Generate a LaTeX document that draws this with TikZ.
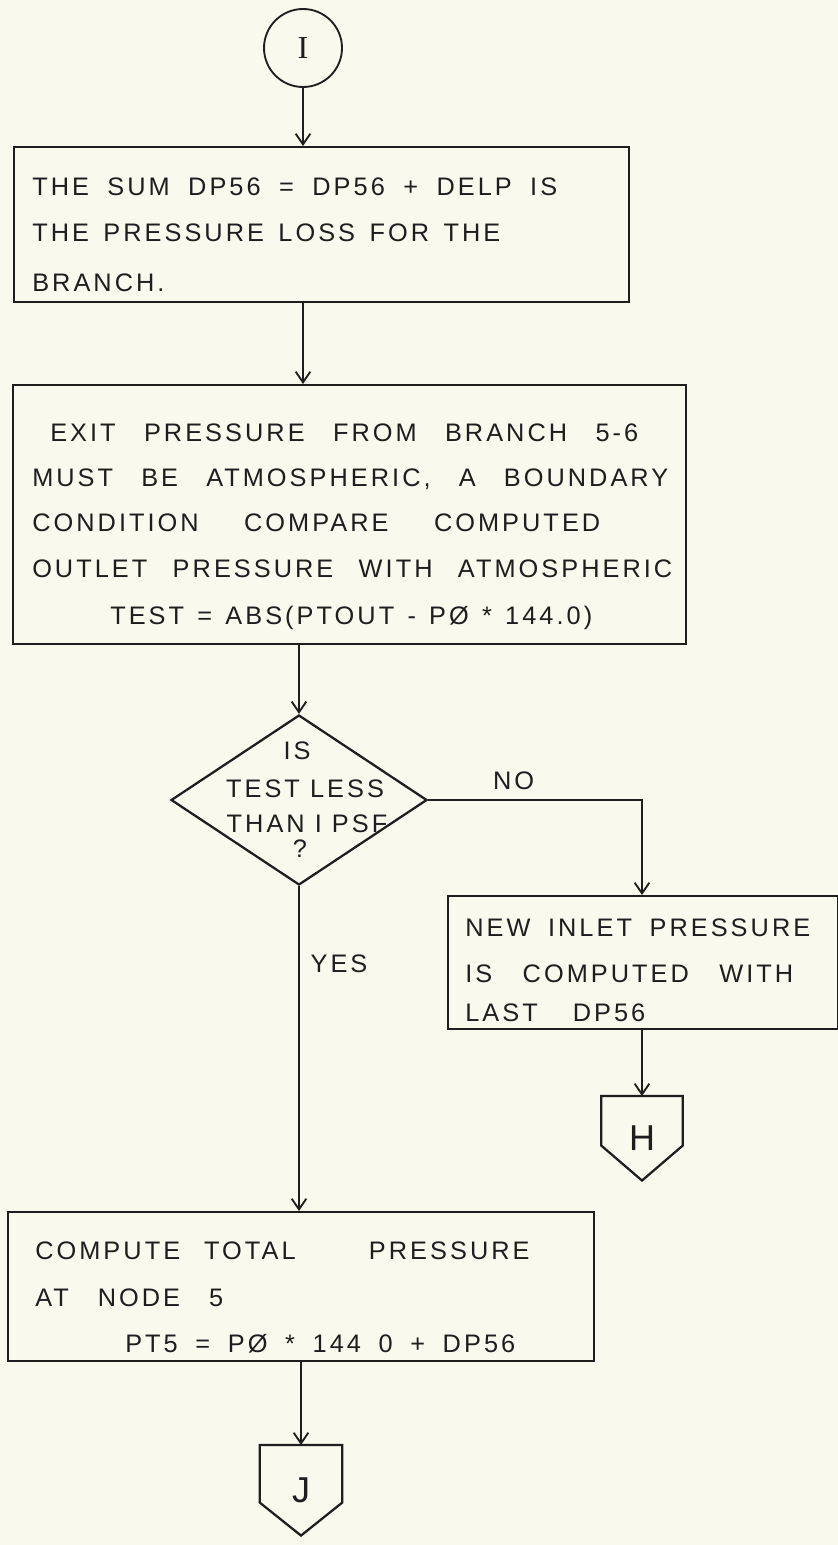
\documentclass[tikz,border=0pt]{standalone}
\usepackage{fontspec}
\setmainfont{Liberation Sans}[LetterSpace=12]
\newfontfamily\serifI{Liberation Serif}
\usetikzlibrary{shapes.geometric,arrows.meta,calc,positioning}
\definecolor{paper}{RGB}{249,249,238}
\definecolor{ink}{RGB}{30,30,30}
\newlength\px
\setlength\px{0.75pt}
\newcommand\handline[2]{\makebox[#1\px][s]{#2}}
\begin{document}
\begin{tikzpicture}[x=0.75pt,y=-0.75pt,
  box/.style 2 args={draw=ink,line width=1.7pt,rectangle,anchor=north west,inner sep=0pt,
    minimum width=#1*0.75pt,minimum height=#2*0.75pt},
  txt/.style={anchor=base west,inner sep=0pt,text=ink,font=\fontsize{19}{23}\selectfont},
  ctxt/.style={txt,anchor=base},
  flow/.style={draw=ink,line width=1.4pt,-{Straight Barb[length=8pt,width=11pt]}},
  offpage/.style 2 args={inner sep=0pt,anchor=north,text=ink,minimum width=#1*0.75pt,
    minimum height=#2*0.75pt,font=\fontsize{27}{30}\selectfont}]
\fill[paper] (0,0) rectangle (838,1545);
\useasboundingbox (0,0) rectangle (838,1545);
\node[draw=ink,line width=1.4pt,circle,minimum size=58.5pt,inner sep=0pt,text=ink,
  font=\serifI\fontsize{24}{26}\selectfont] (circI) at (303,48) {I};
\node[box={615}{155}] (sum) at (13,146) {};
\node[txt] (sum1) at (32,195) {\handline{525}{THE SUM DP56 = DP56 + DELP IS}};
\node[txt] (sum2) at (32,241) {\handline{468}{THE PRESSURE LOSS FOR THE}};
\node[txt] (sum3) at (32,291) {BRANCH.};
\node[box={673}{259}] (exit) at (12,384) {};
\node[txt] (exit1) at (50,441) {\handline{588}{EXIT PRESSURE FROM BRANCH 5-6}};
\node[txt] (exit2) at (32,486) {\handline{636}{MUST BE ATMOSPHERIC, A BOUNDARY}};
\node[txt] (exit3) at (32,531) {\handline{568}{CONDITION COMPARE COMPUTED}};
\node[txt] (exit4) at (32,577) {\handline{640}{OUTLET PRESSURE WITH ATMOSPHERIC}};
\node[txt] (exit5) at (110,624) {\handline{482}{TEST = ABS(PTOUT - PØ * 144.0)}};
\node[draw=ink,line width=1.7pt,diamond,minimum width=192pt,minimum height=127.5pt,
  inner sep=0pt] (test) at (299,800) {};
\node[ctxt] (test1) at (297,759) {IS};
\node[ctxt] (test2) at (305,797) {TEST LESS};
\node[ctxt] (test3) at (307,832) {THAN I PSF};
\node[ctxt] (test4) at (300,857) {?};
\node[box={390}{133}] (inlet) at (447,895) {};
\node[txt] (inlet1) at (465,936) {\handline{345}{NEW INLET PRESSURE}};
\node[txt] (inlet2) at (465,982) {\handline{328}{IS COMPUTED WITH}};
\node[txt] (inlet3) at (465,1021) {\handline{180}{LAST DP56}};
\node[offpage={81}{84}] (offH) at (642,1096) {H};
\draw[ink,line width=1.7pt] (offH.north west) -- (offH.north east)
  -- ($(offH.south east)+(0,-35)$) -- (offH.south) -- ($(offH.south west)+(0,-35)$) -- cycle;
\node[box={586}{149}] (total) at (7,1211) {};
\node[txt] (total1) at (35,1259) {COMPUTE\hspace{18pt}TOTAL\hspace{55pt}PRESSURE};
\node[txt] (total2) at (35,1306) {\handline{188}{AT NODE 5}};
\node[txt] (total3) at (125,1352) {\handline{390}{PT5 = PØ * 144 0 + DP56}};
\node[offpage={82}{90}] (offJ) at (301,1445) {J};
\draw[ink,line width=1.7pt] (offJ.north west) -- (offJ.north east)
  -- ($(offJ.south east)+(0,-33)$) -- (offJ.south) -- ($(offJ.south west)+(0,-33)$) -- cycle;
\draw[flow] (circI.south) -- (circI.south |- sum.north);
\draw[flow] (sum.south -| circI) -- (exit.north -| circI);
\draw[flow] (test.north |- exit.south) -- (test.north);
\draw[flow] (test.east) -- node[ctxt,pos=0.4,anchor=south,yshift=7pt] (no) {NO}
  (test.east -| offH.north) -- (inlet.north -| offH.north);
\draw[flow] (inlet.south -| offH.north) -- (offH.north);
\draw[flow] (test.south) -- node[txt,pos=0.24,anchor=west,xshift=8pt] (yes) {YES}
  (test.south |- total.north);
\draw[flow] (total.south -| offJ.north) -- (offJ.north);
\end{tikzpicture}
\end{document}
